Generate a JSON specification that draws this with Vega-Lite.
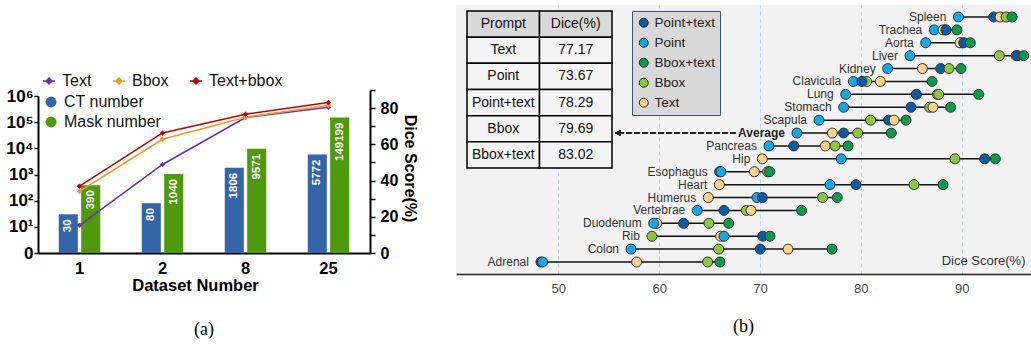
{
  "$schema": "https://vega.github.io/schema/vega-lite/v6.json",
  "padding": {"left": 5, "top": 5, "right": 0, "bottom": 5},
  "background": "white",
  "config": {
    "view": {"stroke": null},
    "font": "Liberation Sans",
    "axis": {"labelFont": "Liberation Sans", "titleFont": "Liberation Sans"},
    "legend": {"labelFont": "Liberation Sans", "titleFont": "Liberation Sans"}
  },
  "datasets": {
    "counts": [
      {"dataset": "1", "type": "CT number", "count": 30},
      {"dataset": "1", "type": "Mask number", "count": 390},
      {"dataset": "2", "type": "CT number", "count": 80},
      {"dataset": "2", "type": "Mask number", "count": 1040},
      {"dataset": "8", "type": "CT number", "count": 1806},
      {"dataset": "8", "type": "Mask number", "count": 9571},
      {"dataset": "25", "type": "CT number", "count": 5772},
      {"dataset": "25", "type": "Mask number", "count": 149199}
    ],
    "curves": [
      {"dataset": "1", "model": "Text", "dice": 15.3},
      {"dataset": "2", "model": "Text", "dice": 48.9},
      {"dataset": "8", "model": "Text", "dice": 74.8},
      {"dataset": "25", "model": "Text", "dice": 80.5},
      {"dataset": "1", "model": "Bbox", "dice": 34.0},
      {"dataset": "2", "model": "Bbox", "dice": 62.8},
      {"dataset": "8", "model": "Bbox", "dice": 75.0},
      {"dataset": "25", "model": "Bbox", "dice": 81.6},
      {"dataset": "1", "model": "Text+bbox", "dice": 36.9},
      {"dataset": "2", "model": "Text+bbox", "dice": 66.3},
      {"dataset": "8", "model": "Text+bbox", "dice": 76.6},
      {"dataset": "25", "model": "Text+bbox", "dice": 83.1}
    ],
    "organs": [
      {"organ": "Spleen", "prompt": "Point", "dice": 89.67},
      {"organ": "Spleen", "prompt": "Point+text", "dice": 93.17},
      {"organ": "Spleen", "prompt": "Text", "dice": 93.8},
      {"organ": "Spleen", "prompt": "Bbox", "dice": 94.4},
      {"organ": "Spleen", "prompt": "Bbox+text", "dice": 95.0},
      {"organ": "Trachea", "prompt": "Bbox", "dice": 88.4},
      {"organ": "Trachea", "prompt": "Point", "dice": 87.28},
      {"organ": "Trachea", "prompt": "Text", "dice": 88.15},
      {"organ": "Trachea", "prompt": "Point+text", "dice": 88.44},
      {"organ": "Trachea", "prompt": "Bbox+text", "dice": 89.53},
      {"organ": "Aorta", "prompt": "Bbox", "dice": 90.0},
      {"organ": "Aorta", "prompt": "Point", "dice": 86.43},
      {"organ": "Aorta", "prompt": "Text", "dice": 89.83},
      {"organ": "Aorta", "prompt": "Point+text", "dice": 90.2},
      {"organ": "Aorta", "prompt": "Bbox+text", "dice": 90.85},
      {"organ": "Liver", "prompt": "Text", "dice": 95.4},
      {"organ": "Liver", "prompt": "Point", "dice": 84.87},
      {"organ": "Liver", "prompt": "Bbox", "dice": 93.73},
      {"organ": "Liver", "prompt": "Point+text", "dice": 95.51},
      {"organ": "Liver", "prompt": "Bbox+text", "dice": 96.15},
      {"organ": "Kidney", "prompt": "Point", "dice": 82.66},
      {"organ": "Kidney", "prompt": "Text", "dice": 86.1},
      {"organ": "Kidney", "prompt": "Point+text", "dice": 87.92},
      {"organ": "Kidney", "prompt": "Bbox", "dice": 88.74},
      {"organ": "Kidney", "prompt": "Bbox+text", "dice": 89.93},
      {"organ": "Clavicula", "prompt": "Point", "dice": 79.25},
      {"organ": "Clavicula", "prompt": "Bbox", "dice": 80.58},
      {"organ": "Clavicula", "prompt": "Point+text", "dice": 80.11},
      {"organ": "Clavicula", "prompt": "Text", "dice": 81.93},
      {"organ": "Clavicula", "prompt": "Bbox+text", "dice": 87.06},
      {"organ": "Lung", "prompt": "Text", "dice": 87.6},
      {"organ": "Lung", "prompt": "Point", "dice": 78.5},
      {"organ": "Lung", "prompt": "Point+text", "dice": 85.5},
      {"organ": "Lung", "prompt": "Bbox", "dice": 87.72},
      {"organ": "Lung", "prompt": "Bbox+text", "dice": 91.69},
      {"organ": "Stomach", "prompt": "Point", "dice": 78.3},
      {"organ": "Stomach", "prompt": "Point+text", "dice": 84.97},
      {"organ": "Stomach", "prompt": "Bbox", "dice": 86.82},
      {"organ": "Stomach", "prompt": "Text", "dice": 87.15},
      {"organ": "Stomach", "prompt": "Bbox+text", "dice": 88.9},
      {"organ": "Scapula", "prompt": "Point", "dice": 75.85},
      {"organ": "Scapula", "prompt": "Bbox", "dice": 80.97},
      {"organ": "Scapula", "prompt": "Point+text", "dice": 82.76},
      {"organ": "Scapula", "prompt": "Text", "dice": 83.29},
      {"organ": "Scapula", "prompt": "Bbox+text", "dice": 84.48},
      {"organ": "Average", "prompt": "Point", "dice": 73.67},
      {"organ": "Average", "prompt": "Text", "dice": 77.17},
      {"organ": "Average", "prompt": "Point+text", "dice": 78.29},
      {"organ": "Average", "prompt": "Bbox", "dice": 79.69},
      {"organ": "Average", "prompt": "Bbox+text", "dice": 83.02},
      {"organ": "Pancreas", "prompt": "Point", "dice": 70.89},
      {"organ": "Pancreas", "prompt": "Point+text", "dice": 73.34},
      {"organ": "Pancreas", "prompt": "Text", "dice": 76.48},
      {"organ": "Pancreas", "prompt": "Bbox", "dice": 77.44},
      {"organ": "Pancreas", "prompt": "Bbox+text", "dice": 78.73},
      {"organ": "Hip", "prompt": "Text", "dice": 70.23},
      {"organ": "Hip", "prompt": "Point", "dice": 78.06},
      {"organ": "Hip", "prompt": "Bbox", "dice": 89.33},
      {"organ": "Hip", "prompt": "Point+text", "dice": 92.28},
      {"organ": "Hip", "prompt": "Bbox+text", "dice": 93.33},
      {"organ": "Esophagus", "prompt": "Point+text", "dice": 66.0},
      {"organ": "Esophagus", "prompt": "Point", "dice": 66.13},
      {"organ": "Esophagus", "prompt": "Text", "dice": 69.44},
      {"organ": "Esophagus", "prompt": "Bbox", "dice": 70.76},
      {"organ": "Esophagus", "prompt": "Bbox+text", "dice": 70.96},
      {"organ": "Heart", "prompt": "Text", "dice": 65.97},
      {"organ": "Heart", "prompt": "Point", "dice": 76.94},
      {"organ": "Heart", "prompt": "Point+text", "dice": 79.52},
      {"organ": "Heart", "prompt": "Bbox", "dice": 85.27},
      {"organ": "Heart", "prompt": "Bbox+text", "dice": 88.15},
      {"organ": "Humerus", "prompt": "Text", "dice": 64.87},
      {"organ": "Humerus", "prompt": "Point", "dice": 69.7},
      {"organ": "Humerus", "prompt": "Point+text", "dice": 70.23},
      {"organ": "Humerus", "prompt": "Bbox", "dice": 76.21},
      {"organ": "Humerus", "prompt": "Bbox+text", "dice": 77.66},
      {"organ": "Vertebrae", "prompt": "Point", "dice": 63.78},
      {"organ": "Vertebrae", "prompt": "Point+text", "dice": 66.43},
      {"organ": "Vertebrae", "prompt": "Bbox", "dice": 68.64},
      {"organ": "Vertebrae", "prompt": "Text", "dice": 69.11},
      {"organ": "Vertebrae", "prompt": "Bbox+text", "dice": 74.13},
      {"organ": "Duodenum", "prompt": "Text", "dice": 59.76},
      {"organ": "Duodenum", "prompt": "Point", "dice": 59.46},
      {"organ": "Duodenum", "prompt": "Point+text", "dice": 62.43},
      {"organ": "Duodenum", "prompt": "Bbox", "dice": 64.94},
      {"organ": "Duodenum", "prompt": "Bbox+text", "dice": 66.9},
      {"organ": "Rib", "prompt": "Bbox", "dice": 59.29},
      {"organ": "Rib", "prompt": "Text", "dice": 66.1},
      {"organ": "Rib", "prompt": "Point", "dice": 66.43},
      {"organ": "Rib", "prompt": "Point+text", "dice": 70.27},
      {"organ": "Rib", "prompt": "Bbox+text", "dice": 70.99},
      {"organ": "Colon", "prompt": "Point", "dice": 57.21},
      {"organ": "Colon", "prompt": "Bbox", "dice": 65.9},
      {"organ": "Colon", "prompt": "Point+text", "dice": 70.03},
      {"organ": "Colon", "prompt": "Text", "dice": 72.78},
      {"organ": "Colon", "prompt": "Bbox+text", "dice": 77.14},
      {"organ": "Adrenal", "prompt": "Point+text", "dice": 48.28},
      {"organ": "Adrenal", "prompt": "Point", "dice": 48.45},
      {"organ": "Adrenal", "prompt": "Text", "dice": 57.77},
      {"organ": "Adrenal", "prompt": "Bbox", "dice": 64.81},
      {"organ": "Adrenal", "prompt": "Bbox+text", "dice": 66.03}
    ],
    "table": [
      {"row": "Prompt", "col": "Prompt", "label": "Prompt"},
      {"row": "Prompt", "col": "Dice", "label": "Dice(%)"},
      {"row": "Text", "col": "Prompt", "label": "Text"},
      {"row": "Text", "col": "Dice", "label": "77.17"},
      {"row": "Point", "col": "Prompt", "label": "Point"},
      {"row": "Point", "col": "Dice", "label": "73.67"},
      {"row": "Point+text", "col": "Prompt", "label": "Point+text"},
      {"row": "Point+text", "col": "Dice", "label": "78.29"},
      {"row": "Bbox", "col": "Prompt", "label": "Bbox"},
      {"row": "Bbox", "col": "Dice", "label": "79.69"},
      {"row": "Bbox+text", "col": "Prompt", "label": "Bbox+text"},
      {"row": "Bbox+text", "col": "Dice", "label": "83.02"}
    ]
  },
  "bounds": "flush",
  "spacing": 86,
  "resolve": {
    "scale": {"color": "independent", "fill": "independent", "stroke": "independent"},
    "legend": {"color": "independent", "fill": "independent", "stroke": "independent"}
  },
  "hconcat": [
    {
      "width": 332,
      "height": 248,
      "title": {"text": "(a)", "orient": "bottom", "anchor": "middle", "frame": "group", "font": "Liberation Serif", "fontSize": 18, "fontWeight": "normal", "color": "black", "offset": 27},
      "layer": [
        {
          "data": {"name": "counts"},
          "encoding": {
            "x": {
              "field": "dataset", "type": "ordinal", "sort": ["1", "2", "8", "25"],
              "scale": {"paddingInner": 0.5, "paddingOuter": 0.25},
              "axis": {"title": "Dataset Number", "labelAngle": 0, "ticks": false, "domainColor": "black", "domainWidth": 2, "labelFontSize": 16.5, "labelFontWeight": "bold", "labelColor": "black", "labelPadding": 7, "titleFontSize": 16.5, "titleFontWeight": "bold", "titleColor": "black", "titlePadding": 1, "titleX": 157}
            },
            "xOffset": {"field": "type", "type": "nominal", "sort": ["CT number", "Mask number"], "scale": {"paddingInner": 0.15}},
            "y": {
              "field": "count", "type": "quantitative",
              "scale": {"type": "log", "domain": [1, 1000000], "range": [248, 91], "nice": false},
              "axis": {"values": [1, 10, 100, 1000, 10000, 100000, 1000000], "labelExpr": "datum.value == 1 ? '0' : '10' + ['', '¹', '²', '³', '⁴', '⁵', '⁶'][round(log(datum.value) / LN10)]", "title": null, "grid": false, "domainColor": "black", "domainWidth": 2, "tickColor": "black", "tickWidth": 1.5, "tickSize": 4, "labelFontSize": 17, "labelFontWeight": "bold", "labelColor": "black", "labelPadding": 1}
            }
          },
          "layer": [
            {
              "mark": {"type": "bar"},
              "encoding": {
                "y2": {"datum": 1},
                "color": {
                  "field": "type", "type": "nominal",
                  "scale": {"domain": ["CT number", "Mask number"], "range": ["#3465a8", "#4e9a0c"]},
                  "legend": {"orient": "none", "legendX": 5, "legendY": 89, "title": null, "padding": 0, "symbolType": "circle", "symbolSize": 120, "symbolStrokeWidth": 0, "labelFontSize": 16, "labelColor": "#111", "labelOffset": 5, "rowPadding": 4}
                }
              }
            },
            {
              "mark": {"type": "text", "angle": 270, "align": "right", "baseline": "middle", "dx": -5, "color": "white", "fontWeight": "bold", "fontSize": 11.5},
              "encoding": {"text": {"field": "count", "type": "quantitative", "format": "d"}}
            }
          ]
        },
        {
          "data": {"name": "curves"},
          "encoding": {
            "x": {"field": "dataset", "type": "ordinal", "sort": ["1", "2", "8", "25"]},
            "y": {
              "field": "dice", "type": "quantitative",
              "scale": {"domain": [0, 90], "range": [248, 85], "nice": false},
              "axis": {"orient": "right", "values": [0, 10, 20, 30, 40, 50, 60, 70, 80, 90], "labelExpr": "datum.value % 20 == 0 ? datum.label : ''", "title": "Dice Score(%)", "titleFontSize": 16, "titleFontWeight": "bold", "titleColor": "black", "titleAngle": 90, "titleX": 39, "titleY": 163, "titleAlign": "center", "titleBaseline": "middle", "grid": false, "domainColor": "black", "domainWidth": 2, "tickColor": "black", "tickWidth": 1.5, "tickSize": 5, "labelFontSize": 16, "labelFontWeight": "bold", "labelColor": "black", "labelPadding": 5}
            }
          },
          "layer": [
            {
              "mark": {"type": "line", "strokeWidth": 1.6},
              "encoding": {
                "stroke": {
                  "field": "model", "type": "nominal",
                  "scale": {"domain": ["Text", "Bbox", "Text+bbox"], "range": ["#7030a0", "#ee9a2a", "#c00000"]},
                  "legend": {"orient": "none", "legendX": 3, "legendY": 68, "direction": "horizontal", "title": null, "padding": 0, "symbolType": "M-1,0H1M0,-0.5L0.5,0L0,0.5L-0.5,0Z", "symbolSize": 144, "symbolStrokeWidth": 1.5, "labelFontSize": 16, "labelColor": "#111", "labelOffset": 5, "columnPadding": 18}
                }
              }
            },
            {
              "mark": {"type": "point", "shape": "diamond", "filled": true, "size": 30, "opacity": 1},
              "encoding": {
                "fill": {
                  "field": "model", "type": "nominal",
                  "scale": {"domain": ["Text", "Bbox", "Text+bbox"], "range": ["#7030a0", "#ee9a2a", "#c00000"]},
                  "legend": {"orient": "none", "legendX": 3, "legendY": 68, "direction": "horizontal", "title": null, "padding": 0, "symbolType": "M-1,0H1M0,-0.5L0.5,0L0,0.5L-0.5,0Z", "symbolSize": 144, "symbolStrokeWidth": 1.5, "labelFontSize": 16, "labelColor": "#111", "labelOffset": 5, "columnPadding": 18}
                }
              }
            }
          ]
        }
      ],
      "resolve": {"scale": {"y": "independent"}}
    },
    {
      "width": 575,
      "height": 269,
      "view": {"fill": "#f2f2f2", "stroke": null},
      "title": {"text": "(b)", "orient": "bottom", "anchor": "middle", "frame": "group", "font": "Liberation Serif", "fontSize": 18, "fontWeight": "normal", "color": "black", "offset": 23},
      "layer": [
        {
          "data": {"name": "organs"},
          "layer": [
            {
              "mark": {"type": "rule", "color": "#111", "strokeWidth": 1.5},
              "encoding": {
                "x": {
                  "aggregate": "min", "field": "dice", "type": "quantitative",
                  "scale": {"domain": [39.86, 96.87], "nice": false, "zero": false},
                  "axis": {"values": [50, 60, 70, 80, 90], "grid": true, "gridDash": [4, 3], "gridColor": "#c3cff2", "gridWidth": 1, "ticks": false, "domainColor": "#222", "domainWidth": 1.5, "labelFontSize": 13, "labelColor": "#444", "labelPadding": 8, "title": "Dice Score(%)", "titleX": 569, "titleY": -7, "titleAlign": "right", "titleBaseline": "bottom", "titleFontSize": 13, "titleFontWeight": "normal", "titleColor": "#333"}
                },
                "x2": {"aggregate": "max", "field": "dice"},
                "y": {
                  "field": "organ", "type": "nominal",
                  "scale": {"type": "point", "padding": 0.93, "domain": ["Spleen", "Trachea", "Aorta", "Liver", "Kidney", "Clavicula", "Lung", "Stomach", "Scapula", "Average", "Pancreas", "Hip", "Esophagus", "Heart", "Humerus", "Vertebrae", "Duodenum", "Rib", "Colon", "Adrenal"]},
                  "axis": null
                }
              }
            },
            {
              "mark": {"type": "rule", "color": "#222", "strokeWidth": 1.2, "strokeDash": [5, 3]},
              "encoding": {"x": {"datum": 56.0}, "x2": {"datum": 67.6}, "y": {"datum": "Average"}}
            },
            {
              "mark": {"type": "point", "shape": "triangle-left", "filled": true, "color": "#222", "size": 35, "opacity": 1},
              "encoding": {"x": {"datum": 55.95}, "y": {"datum": "Average"}}
            },
            {
              "mark": {"type": "point", "filled": true, "size": 100, "stroke": "#333", "strokeWidth": 1, "opacity": 1},
              "encoding": {
                "x": {"field": "dice", "type": "quantitative"},
                "y": {"field": "organ", "type": "nominal"},
                "fill": {
                  "field": "prompt", "type": "nominal",
                  "scale": {"domain": ["Point+text", "Point", "Bbox+text", "Bbox", "Text"], "range": ["#0b5aa6", "#14a8e6", "#0a9a48", "#8cc83f", "#fcd38c"]},
                  "legend": {"orient": "none", "legendX": 176, "legendY": 6, "title": null, "padding": 5, "fillColor": "#d9d9d9", "strokeColor": "#45506a", "symbolType": "circle", "symbolSize": 80, "symbolStrokeColor": "#222", "symbolStrokeWidth": 1, "labelFontSize": 13.5, "labelColor": "#222", "labelOffset": 4, "rowPadding": 5}
                }
              }
            },
            {
              "transform": [{"filter": "datum.organ != 'Average'"}, {"aggregate": [{"op": "min", "field": "dice", "as": "lo"}], "groupby": ["organ"]}],
              "mark": {"type": "text", "align": "right", "baseline": "middle", "dx": -12, "fontSize": 12, "color": "#333"},
              "encoding": {
                "x": {"field": "lo", "type": "quantitative"},
                "y": {"field": "organ", "type": "nominal"},
                "text": {"field": "organ"}
              }
            },
            {
              "transform": [{"filter": "datum.organ == 'Average'"}, {"aggregate": [{"op": "min", "field": "dice", "as": "lo"}], "groupby": ["organ"]}],
              "mark": {"type": "text", "align": "right", "baseline": "middle", "dx": -12, "fontSize": 12, "fontWeight": "bold", "color": "#222"},
              "encoding": {
                "x": {"field": "lo", "type": "quantitative"},
                "y": {"field": "organ", "type": "nominal"},
                "text": {"field": "organ"}
              }
            }
          ]
        },
        {
          "data": {"name": "table"},
          "encoding": {
            "x": {"field": "col", "type": "nominal", "sort": ["Prompt", "Dice"], "scale": {"type": "band", "range": [11, 156], "paddingInner": 0, "paddingOuter": 0}, "axis": null},
            "y": {"field": "row", "type": "nominal", "sort": ["Prompt", "Text", "Point", "Point+text", "Bbox", "Bbox+text"], "scale": {"type": "band", "range": [6, 163], "paddingInner": 0, "paddingOuter": 0}, "axis": null}
          },
          "layer": [
            {
              "mark": {"type": "rect", "stroke": "black", "strokeWidth": 1.5},
              "encoding": {
                "fill": {"condition": {"test": "datum.row == 'Prompt'", "value": "#d9d9d9"}, "value": "#f4f4f4"}
              }
            },
            {
              "mark": {"type": "text", "fontSize": 14, "color": "#111", "baseline": "middle", "align": "center"},
              "encoding": {"text": {"field": "label"}}
            }
          ]
        }
      ],
      "resolve": {"scale": {"x": "independent", "y": "independent"}}
    }
  ]
}
